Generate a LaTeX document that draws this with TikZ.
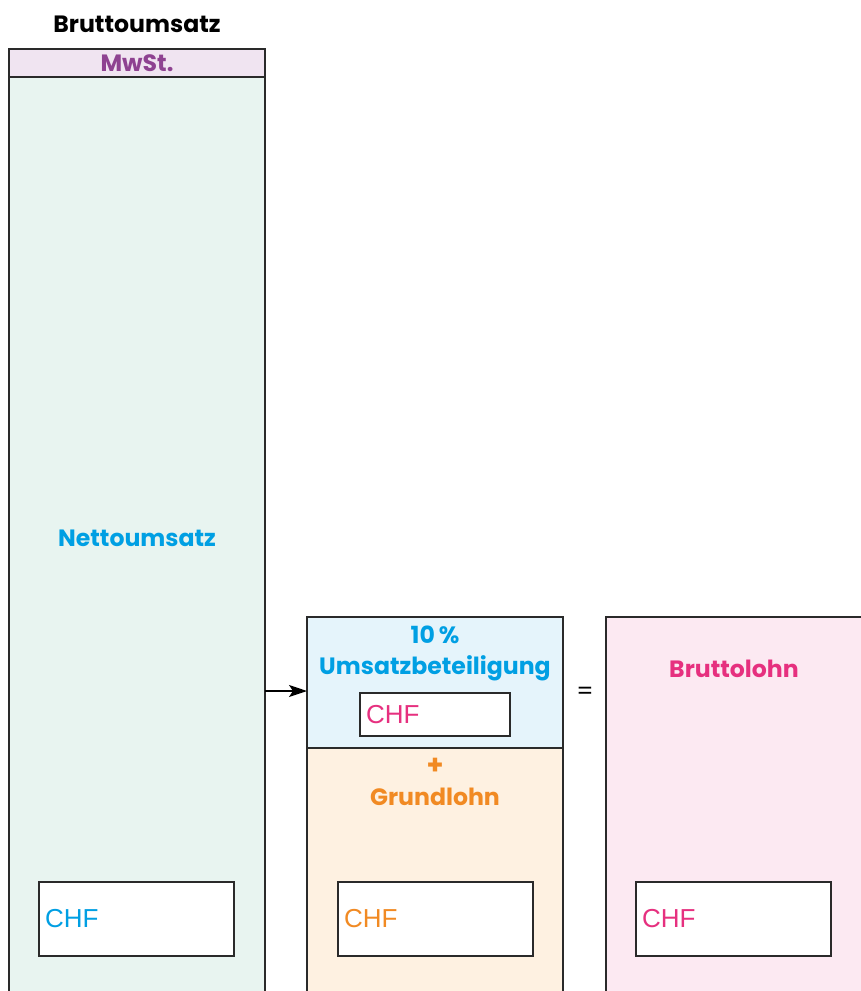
\documentclass[tikz,border=0pt]{standalone}
\usepackage{fontspec}
\setmainfont{Poppins}
\newfontfamily\arialf{Liberation Sans}
\usetikzlibrary{arrows.meta}
\definecolor{mint}{HTML}{E8F4F0}
\definecolor{purplefill}{HTML}{F0E4F1}
\definecolor{purpletext}{HTML}{8E4291}
\definecolor{bluetext}{HTML}{009FE3}
\definecolor{bluefill}{HTML}{E5F4FB}
\definecolor{orangefill}{HTML}{FEF1E1}
\definecolor{orangetext}{HTML}{F18A23}
\definecolor{pinkfill}{HTML}{FCE9F2}
\definecolor{pinktext}{HTML}{E6307F}
\definecolor{linec}{HTML}{2A2A2A}
\tikzset{
  panel/.style={draw=linec, line width=1.2pt, anchor=north west, inner sep=0pt, outer sep=0pt},
  chf/.style={draw=linec, line width=1.2pt, fill=white, anchor=north west, inner xsep=6pt, inner ysep=0pt, outer sep=0pt,
    align=left, font=\arialf\fontsize{26}{30}\selectfont},
  lbl/.style={font=\bfseries\fontsize{23.6}{31}\selectfont, align=center, inner sep=0pt},
}
\begin{document}
\begin{tikzpicture}[x=1pt,y=-1pt]
\useasboundingbox (0,0) rectangle (861,991);
\clip (0,0) rectangle (861,991);
% left column
\node[lbl, text=black] (title) at (137,24) {Bruttoumsatz};
\node[panel, fill=mint, minimum width=256pt, minimum height=960pt] (netto) at (9,49) {};
\node[panel, fill=purplefill, minimum width=256pt, minimum height=28pt] (mwst) at (9,49) {};
\node[lbl, text=purpletext] (mwsttxt) at (mwst.center) {MwSt.};
\node[lbl, text=bluetext] (nettotxt) at (137,538) {Nettoumsatz};
\node[chf, text=bluetext, minimum width=195pt, minimum height=74pt, text width=183pt] (chf1) at (39,882) {\raisebox{-2pt}{CHF}};
% middle column
\node[panel, fill=orangefill, minimum width=256pt, minimum height=260pt] (grund) at (307,748) {};
\node[panel, fill=bluefill, minimum width=256pt, minimum height=131pt] (ub) at (307,617) {};
\node[lbl, text=bluetext] (ubtxt) at (435,653) {10\,\%\\Umsatzbeteiligung};
\node[chf, text=pinktext, minimum width=150pt, minimum height=43pt, text width=138pt] (chf2) at (360,693) {\raisebox{-2pt}{CHF}};
\node[lbl, text=orangetext] (grundtxt) at (435,782) {{\fontsize{27}{31}\selectfont +}\\Grundlohn};
\node[chf, text=orangetext, minimum width=195pt, minimum height=74pt, text width=183pt] (chf3) at (338,882) {\raisebox{-2pt}{CHF}};
% equals
\node[font=\fontsize{24}{28}\selectfont, inner sep=0pt] (eq) at (585,693) {=};
% right column
\node[panel, fill=pinkfill, minimum width=270pt, minimum height=390pt] (brutto) at (606,617) {};
\node[lbl, text=pinktext] (bruttotxt) at (734,669) {Bruttolohn};
\node[chf, text=pinktext, minimum width=195pt, minimum height=74pt, text width=183pt] (chf4) at (636,882) {\raisebox{-2pt}{CHF}};
% arrow
\coordinate (a1) at (netto.east |- 0,691);
\draw[line width=1.2pt, -{Stealth[length=18pt,width=12pt,inset=4pt]}] (a1) -- (a1 -| ub.west);
\end{tikzpicture}
\end{document}
